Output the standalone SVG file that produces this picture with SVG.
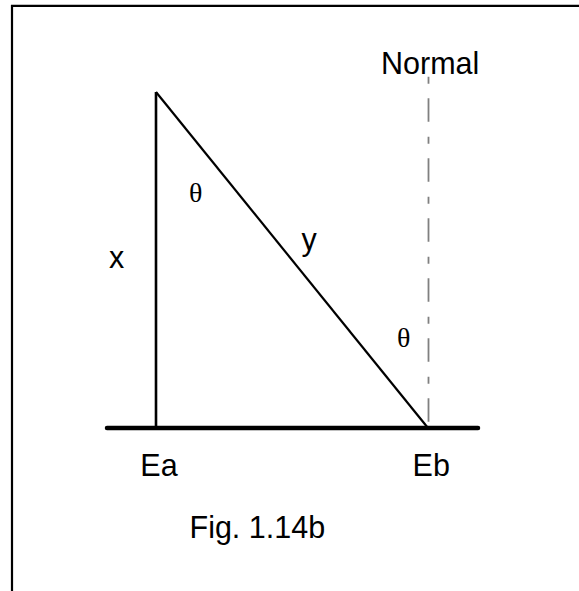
<svg xmlns="http://www.w3.org/2000/svg" width="579" height="591" viewBox="0 0 579 591">
<style>
.lbl{font-family:"Liberation Sans",Arial,sans-serif;font-size:30.5px;fill:#000}
.grk{font-family:"Liberation Serif","Times New Roman",serif;font-size:28px;fill:#000}
.ln{stroke:#000;fill:none}
</style>
<rect width="579" height="591" fill="#fff"/>
<g id="frame">
<path class="ln" d="M12 591 V5.8 H579" stroke-width="2.2"/>
</g>
<g id="connectors">
<line id="ground" class="ln" x1="107" y1="428" x2="478" y2="428" stroke-width="4.5" stroke-linecap="round"/>
<line id="side-x" class="ln" x1="156" y1="92" x2="156" y2="428" stroke-width="2.6"/>
<line id="side-y" class="ln" x1="156" y1="92" x2="428" y2="428" stroke-width="2.2"/>
<line id="normal" x1="428.5" y1="76.7" x2="428.5" y2="428" stroke="#808080" stroke-width="1.8" stroke-dasharray="7 14.6 23.4 15"/>
</g>
<g id="label-normal"><text class="lbl" x="381" y="73.5">Normal</text></g>
<g id="label-x"><text class="lbl" x="109" y="267.5">x</text></g>
<g id="label-y"><text class="lbl" x="301.5" y="250">y</text></g>
<g id="label-theta1"><text class="grk" x="189" y="201.5">θ</text></g>
<g id="label-theta2"><text class="grk" x="397" y="347">θ</text></g>
<g id="label-ea"><text class="lbl" x="140.3" y="476">Ea</text></g>
<g id="label-eb"><text class="lbl" x="412.6" y="476">Eb</text></g>
<g id="caption"><text class="lbl" x="189.5" y="537.5">Fig. 1.14b</text></g>
</svg>
